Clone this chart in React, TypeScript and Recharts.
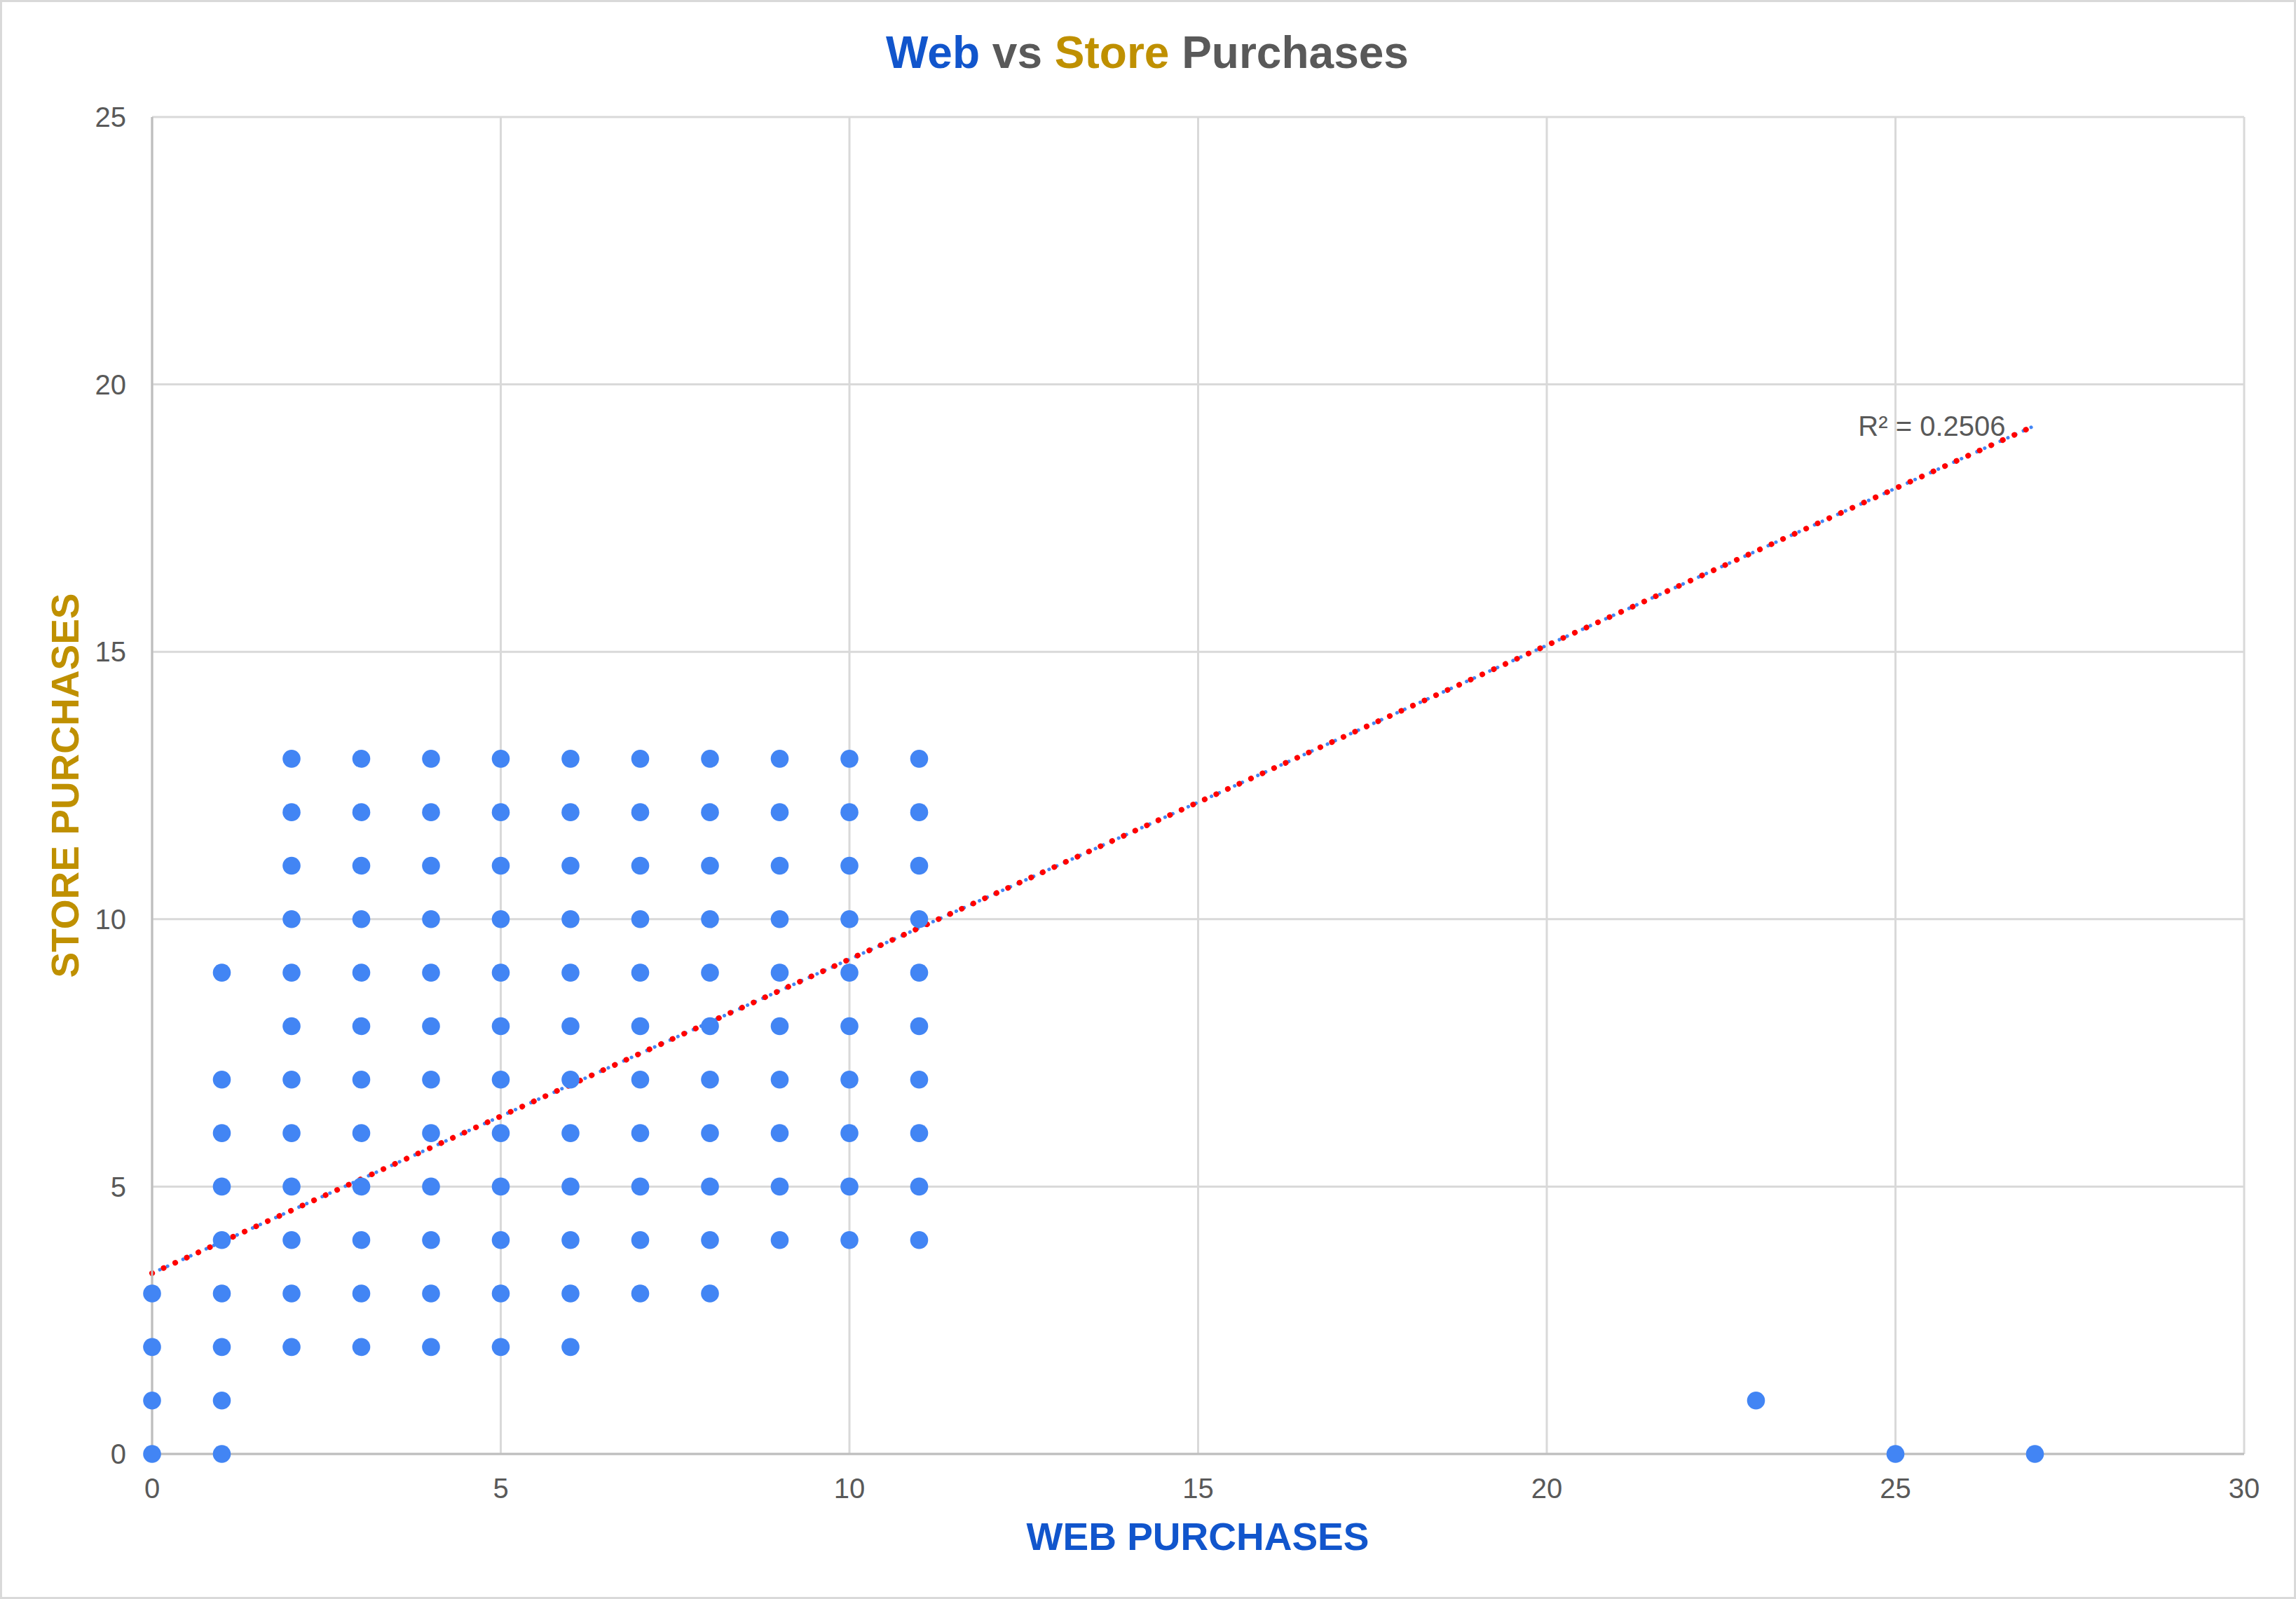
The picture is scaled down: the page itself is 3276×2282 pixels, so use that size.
import {
  ScatterChart,
  Scatter,
  XAxis,
  YAxis,
  CartesianGrid,
  ReferenceLine,
  ReferenceDot,
  Label,
} from "recharts";

// web purchases (x) and the store purchases (y) seen at each of them
const webPurchases = [0, 1, 2, 3, 4, 5, 6, 7, 8, 9, 10, 11, 23, 25, 27];
const storePurchases = [
  [0, 1, 2, 3],
  [0, 1, 2, 3, 4, 5, 6, 7, 9],
  [2, 3, 4, 5, 6, 7, 8, 9, 10, 11, 12, 13],
  [2, 3, 4, 5, 6, 7, 8, 9, 10, 11, 12, 13],
  [2, 3, 4, 5, 6, 7, 8, 9, 10, 11, 12, 13],
  [2, 3, 4, 5, 6, 7, 8, 9, 10, 11, 12, 13],
  [2, 3, 4, 5, 6, 7, 8, 9, 10, 11, 12, 13],
  [3, 4, 5, 6, 7, 8, 9, 10, 11, 12, 13],
  [3, 4, 5, 6, 7, 8, 9, 10, 11, 12, 13],
  [4, 5, 6, 7, 8, 9, 10, 11, 12, 13],
  [4, 5, 6, 7, 8, 9, 10, 11, 12, 13],
  [4, 5, 6, 7, 8, 9, 10, 11, 12, 13],
  [1],
  [0],
  [0],
];

const xTicks = [0, 5, 10, 15, 20, 25, 30];
const yTicks = [0, 5, 10, 15, 20, 25];

// linear trendline endpoints
const trendX = [0, 27];
const trendY = [3.38, 19.23];
const rSquared = "0.2506";

const FONT = "Arial, 'Liberation Sans', sans-serif";
const W = 3276;
const H = 2282;

const points = webPurchases.flatMap((web, i) =>
  storePurchases[i].map((store) => ({ web, store }))
);

const trendSegment = [
  { x: trendX[0], y: trendY[0] },
  { x: trendX[1], y: trendY[1] },
];

const Dot = (props: any) => (
  <circle cx={props.cx} cy={props.cy} r={12.8} fill="#4285F4" />
);

export default function App() {
  return (
    <div style={{ position: "absolute", left: 0, top: 0, width: W, height: H, background: "#fff" }}>
      <ScatterChart
        width={W}
        height={H}
        margin={{ top: 167, right: 74, bottom: 127, left: 117 }}
      >
        <CartesianGrid stroke="#D9D9D9" strokeWidth={3} />
        <XAxis
          type="number"
          dataKey="web"
          domain={[0, 30]}
          ticks={xTicks}
          height={80}
          tickLine={false}
          tickSize={0}
          tickMargin={35}
          axisLine={{ stroke: "#BDBDBD", strokeWidth: 3 }}
          tick={{ fill: "#595959", fontSize: 40, fontFamily: FONT }}
        />
        <YAxis
          type="number"
          dataKey="store"
          domain={[0, 25]}
          ticks={yTicks}
          width={100}
          tickLine={false}
          tickSize={0}
          tickMargin={37}
          axisLine={{ stroke: "#BDBDBD", strokeWidth: 3 }}
          tick={{ fill: "#595959", fontSize: 40, fontFamily: FONT }}
        />
        <Scatter data={points} shape={Dot} isAnimationActive={false} />
        <ReferenceLine
          segment={trendSegment}
          stroke="#4285F4"
          strokeWidth={5}
          strokeDasharray="0.1 12"
          strokeLinecap="round"
        />
        <ReferenceLine
          segment={trendSegment}
          stroke="#FF0000"
          strokeWidth={8}
          strokeDasharray="0.1 18"
          strokeLinecap="round"
        />
        <ReferenceDot x={trendX[1]} y={trendY[1]} r={0} fill="none" stroke="none">
          <Label
            value={`R² = ${rSquared}`}
            position="left"
            offset={42}
            fill="#595959"
            fontSize={40}
            fontFamily={FONT}
          />
        </ReferenceDot>
      </ScatterChart>
      <svg
        width={W}
        height={H}
        style={{ position: "absolute", left: 0, top: 0, pointerEvents: "none" }}
      >
        <rect x={1.5} y={1.5} width={W - 3} height={H - 3} fill="none" stroke="#D9D9D9" strokeWidth={3} />
        <text x={1637} y={97} textAnchor="middle" fontFamily={FONT} fontSize={64} fontWeight="bold" fill="#595959">
          <tspan fill="#1155CC">Web</tspan>
          <tspan> vs </tspan>
          <tspan fill="#BF9000">Store</tspan>
          <tspan> Purchases</tspan>
        </text>
        <text x={1709} y={2212} textAnchor="middle" fontFamily={FONT} fontSize={55} fontWeight="bold" fill="#1155CC">
          WEB PURCHASES
        </text>
        <text
          x={112}
          y={1121}
          transform="rotate(-90 112 1121)"
          textAnchor="middle"
          fontFamily={FONT}
          fontSize={55}
          fontWeight="bold"
          fill="#BF9000"
        >
          STORE PURCHASES
        </text>
      </svg>
    </div>
  );
}
